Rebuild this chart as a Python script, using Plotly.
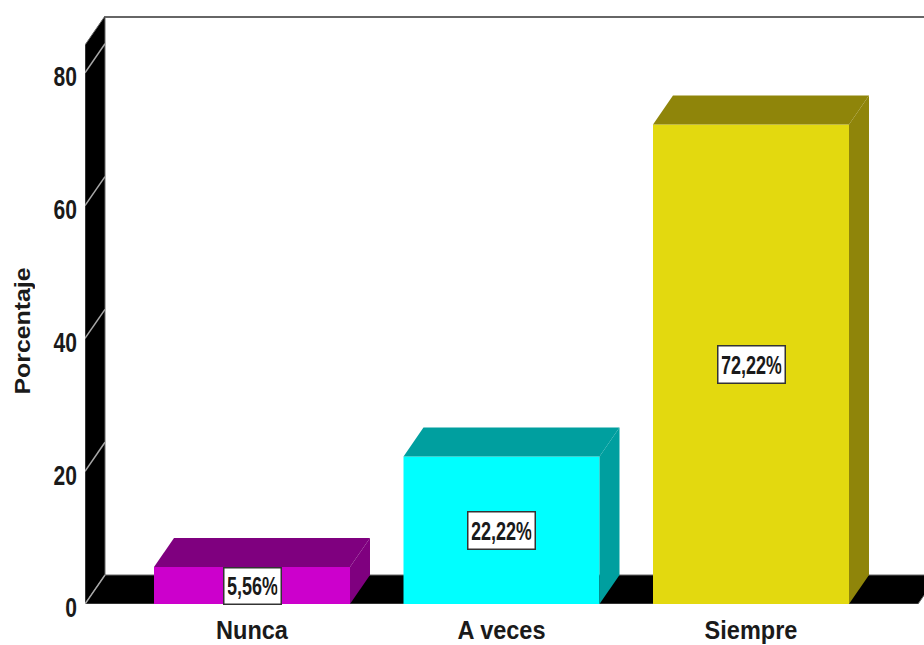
import plotly.graph_objects as go

categories = ["Nunca", "A veces", "Siempre"]
values = [5.56, 22.22, 72.22]
labels = ["5,56%", "22,22%", "72,22%"]
y_ticks = [0, 20, 40, 60, 80]
y_title = "Porcentaje"
front_colors = ["#CC00CC", "#00FFFF", "#E3D90F"]
dark_colors = ["#7F007F", "#009F9F", "#8F850A"]

FIG_W, FIG_H = 924, 645
L, R, T, B = 85, 0, 16, 41
PX_PER_CAT = 249.5
PX_PER_UNIT = 6.64
PLOT_W, PLOT_H = FIG_W - L - R, FIG_H - T - B
X0 = (85 - 252) / PX_PER_CAT
X1 = X0 + PLOT_W / PX_PER_CAT
Y1 = PLOT_H / PX_PER_UNIT
DX = 20 / PX_PER_CAT
DY = 29 / PX_PER_UNIT
BAR_W = 196 / PX_PER_CAT
SANS = "Liberation Sans, Arial, sans-serif"

fig = go.Figure()

fig.add_trace(go.Bar(
    x=list(range(len(categories))), y=values, width=BAR_W,
    marker=dict(color=front_colors, line=dict(width=0)),
    hoverinfo="skip", showlegend=False,
))

for i, v in enumerate(values):
    a, b = i - BAR_W / 2, i + BAR_W / 2
    fig.add_trace(go.Scatter(
        x=[a, a + DX, b + DX, b, a], y=[v, v + DY, v + DY, v, v],
        mode="lines", fill="toself", fillcolor=dark_colors[i],
        line=dict(width=0), hoverinfo="skip", showlegend=False,
    ))
    fig.add_trace(go.Scatter(
        x=[b, b + DX, b + DX, b, b], y=[v, v + DY, DY, 0, v],
        mode="lines", fill="toself", fillcolor=dark_colors[i],
        line=dict(width=0), hoverinfo="skip", showlegend=False,
    ))

shapes = [
    dict(type="path", layer="below", xref="x", yref="y", fillcolor="black",
         line=dict(color="#666666", width=1),
         path=f"M {X0} 0 L {X0+DX} {DY} L {X0+DX} {Y1} L {X0} {Y1-DY} Z"),
    dict(type="path", layer="below", xref="x", yref="y", fillcolor="black",
         line=dict(color="#666666", width=1),
         path=f"M {X0} 0 L {X0+833/PX_PER_CAT} 0 L {X0+853/PX_PER_CAT} {DY} L {X0+DX} {DY} Z"),
    dict(type="line", layer="below", xref="x", yref="y", x0=X0 + DX, x1=X1,
         y0=Y1 - 0.15, y1=Y1 - 0.15, line=dict(color="#666666", width=2)),
]
for t in y_ticks:
    shapes.append(dict(type="line", layer="below", xref="x", yref="y",
                       x0=X0, x1=X0 + DX, y0=t, y1=t + DY,
                       line=dict(color="#A8A8A8", width=1.5)))

annotations = [
    dict(x=i, y=v / 2, text=labels[i], showarrow=False, xref="x", yref="y",
         font=dict(family=SANS, size=25, color="#1A1A1A", weight="bold"),
         bgcolor="white", bordercolor="#333333", borderwidth=1.5, borderpad=3,
         width=50 if i == 0 else 60, height=29 if i == 0 else 30)
    for i, v in enumerate(values)
]
annotations.append(dict(
    text=y_title, textangle=-90, showarrow=False, xref="paper", yref="paper",
    x=(22 - 85) / PLOT_W, y=(604 - 331) / PLOT_H, xanchor="center", yanchor="middle",
    width=140,
    font=dict(family=SANS, size=22, color="#1A1A1A", weight="bold"),
))

fig.update_layout(
    width=FIG_W, height=FIG_H, autosize=False,
    margin=dict(l=L, r=R, t=T, b=B, pad=0),
    paper_bgcolor="white", plot_bgcolor="white",
    showlegend=False, shapes=shapes, annotations=annotations,
    xaxis=dict(range=[X0, X1], tickmode="array",
               tickvals=list(range(len(categories))), ticktext=categories,
               showgrid=False, zeroline=False, showline=False, ticks="",
               ticklabelstandoff=9,
               tickfont=dict(family=SANS, size=25, color="#1A1A1A", weight="bold")),
    yaxis=dict(range=[0, Y1], tickmode="array", tickvals=y_ticks,
               ticktext=[str(t) for t in y_ticks],
               showgrid=False, zeroline=False, showline=False, ticks="",
               ticklabelstandoff=7,
               tickfont=dict(family=SANS, size=27, color="#1A1A1A", weight="bold")),
)

# the reference uses a narrow face: squeeze real text horizontally
post = """
document.body.style.margin = '0';
document.documentElement.style.overflow = 'hidden';
setTimeout(function () {
  var squeeze = function (sel, k, dy) {
    document.querySelectorAll(sel).forEach(function (t) {
      var f = (t.textContent === 'Porcentaje') ? 1.13 : k;
      t.setAttribute('textLength', t.getComputedTextLength() * f);
      t.setAttribute('lengthAdjust', 'spacingAndGlyphs');
      if (dy) t.setAttribute('dy', dy);
    });
  };
  squeeze('.xtick text', 0.94);
  squeeze('.ytick text', 0.78, 4);
  squeeze('.annotation-text', 0.72);
}, 0);
"""
fig.write_html("out.html", config=dict(displayModeBar=False), post_script=post,
               default_width=f"{FIG_W}px", default_height=f"{FIG_H}px")
